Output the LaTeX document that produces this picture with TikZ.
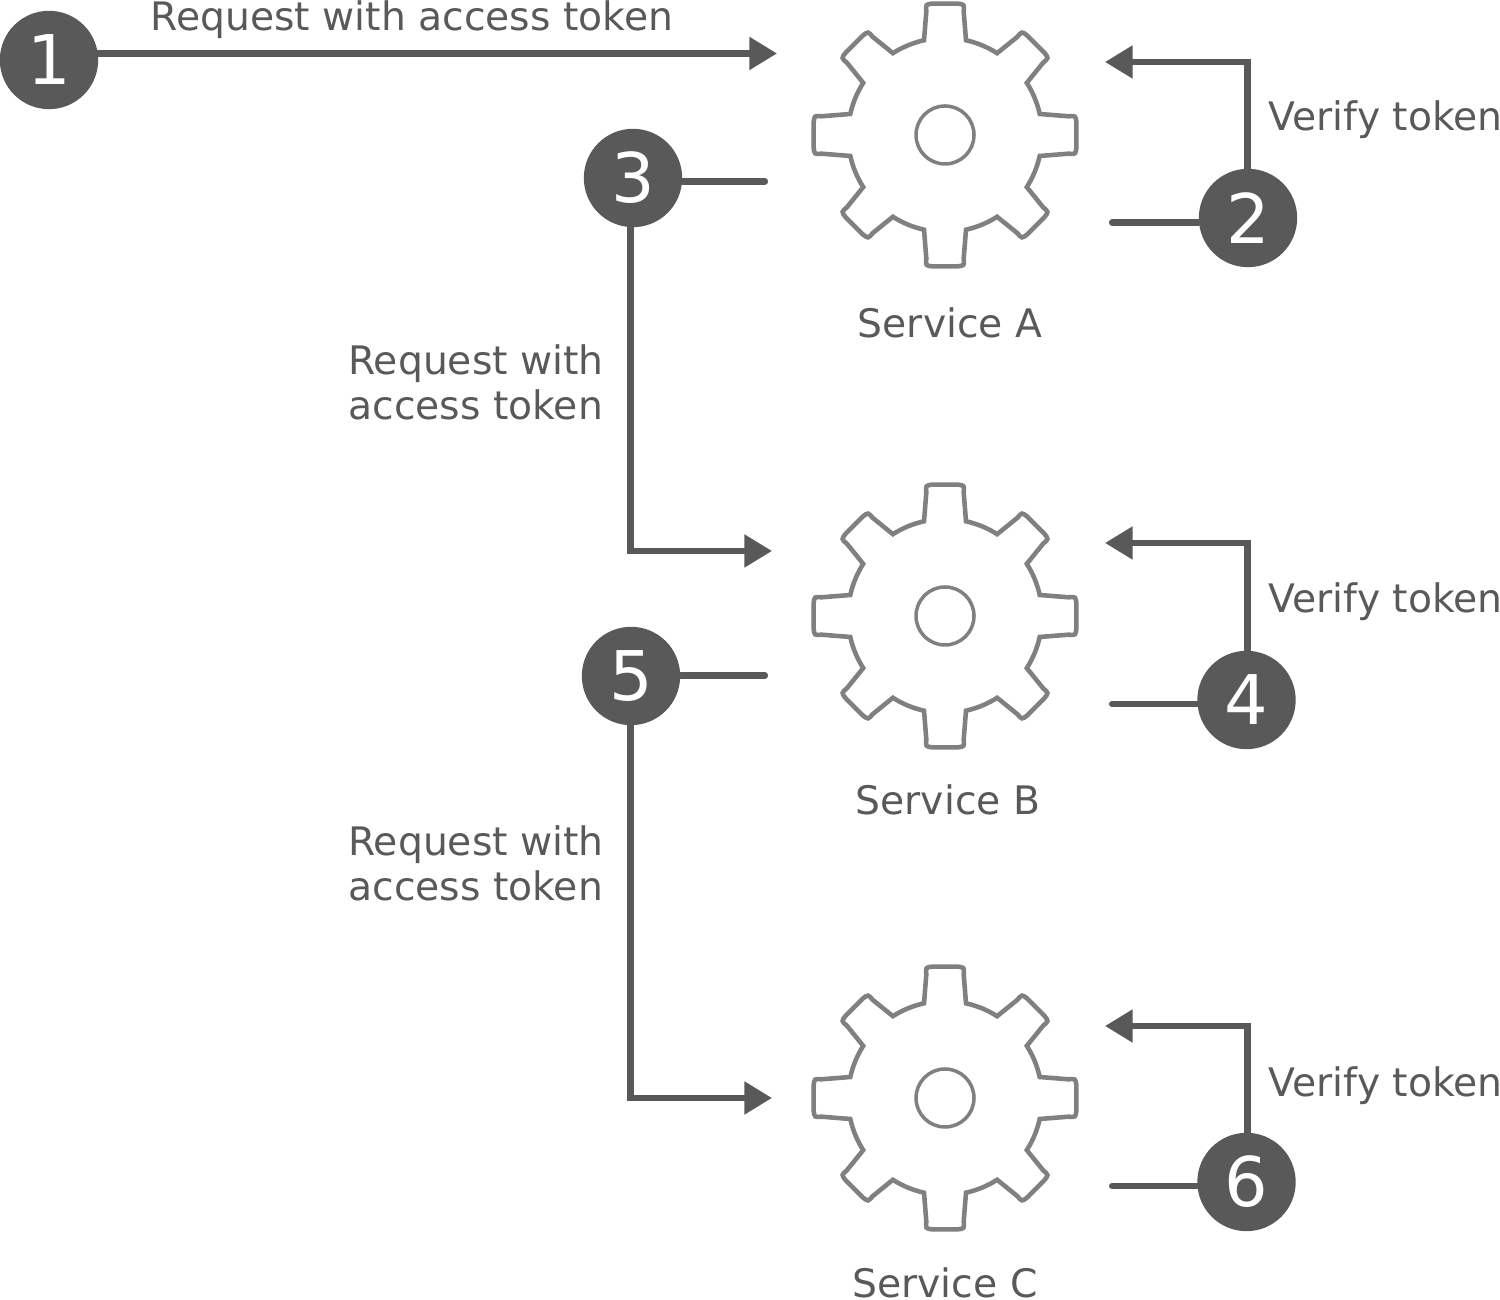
\documentclass[tikz,border=0pt]{standalone}
\usepackage{fontspec}
\setmainfont{DejaVu Sans}
\usetikzlibrary{arrows.meta, positioning, calc}
\definecolor{ink}{HTML}{595959}
\definecolor{cogink}{HTML}{808080}
\tikzset{
    num/.style={circle, fill=ink, text=white, inner sep=0pt, minimum size=56pt, font=\fontsize{39}{39}\selectfont},
    lbl/.style={text=ink, inner sep=0pt, anchor=base west, font=\fontsize{22.35}{25.6}\selectfont},
    svc/.style={lbl, anchor=base},
    link/.style={line width=3.5pt, draw=ink, line cap=round},
    req/.style={link, line cap=butt, shorten <=-2pt, -{Triangle[length=15.7pt, width=18pt]}},
    cogline/.style={line width=2.6pt, draw=cogink, line join=miter}
}
\begin{document}
\begin{tikzpicture}[x=0.02cm, y=0.02cm]
    \useasboundingbox (0,0) rectangle (1500,1300);
    \foreach \y in {1165, 684, 202} {
        \begin{scope}[shift={(945,\y)}]
            \draw[cogline] (-12.5:97) \foreach \a/\r in {0/132,45/129,90/132,135/129,180/132,225/129,270/132,315/129} {
                -- (\a-8.6:\r-7) .. controls (\a-8.4:\r) .. (\a-5.5:\r) -- (\a+5.5:\r) .. controls (\a+8.4:\r) .. (\a+8.6:\r-7)
                -- (\a+12.5:97) arc[start angle=\a+12.5, delta angle=20, radius=97]
            } -- cycle;
            \draw[cogline, line width=2pt] (0,0) circle (29);
        \end{scope}
    }
    \node[num] (n1) at (49,1240) {1};
    \node[num] (n2) at (1248,1082) {2};
    \node[num] (n3) at (633,1122) {3};
    \node[num] (n4) at (1246.5,600) {4};
    \node[num] (n5) at (631,624) {5};
    \node[num] (n6) at (1246.5,118) {6};
    \coordinate (tipA) at (777,1246.5);
    \coordinate (tipB) at (772,749);
    \coordinate (tipC) at (772,202);
    \coordinate (backA) at (1105,1238);
    \coordinate (backB) at (1105,757);
    \coordinate (backC) at (1105,274);
    \coordinate (stubA) at (1112,1077.5);
    \coordinate (stubB) at (1112,596);
    \coordinate (stubC) at (1112,114);
    \coordinate (outA) at (765,1118.5);
    \coordinate (outB) at (765,624.5);
    \coordinate (rise) at (1247.5,600);
    \coordinate (drop) at (630.5,600);
    \draw[req] (tipA -| n1.east) -- (tipA);
    \draw[req] (n2.north -| rise) |- (backA);
    \draw[req] (n4.north -| rise) |- (backB);
    \draw[req] (n6.north -| rise) |- (backC);
    \draw[req] (n3.south -| drop) |- (tipB);
    \draw[req] (n5.south -| drop) |- (tipC);
    \draw[link] (stubA) -- (stubA -| n2.west);
    \draw[link] (stubB) -- (stubB -| n4.west);
    \draw[link] (stubC) -- (stubC -| n6.west);
    \draw[link] (outA) -- (outA -| n3.east);
    \draw[link] (outB) -- (outB -| n5.east);
    \node[svc] (reqtop) at (412,1269) {Request with access token};
    \node[lbl] (verA) at (1268.5,1169) {Verify token};
    \node[lbl] (verB) at (1268.5,687) {Verify token};
    \node[lbl] (verC) at (1268.5,203) {Verify token};
    \node[svc] (nameA) at (950,962.5) {Service A};
    \node[svc] (nameB) at (948,485) {Service B};
    \node[svc] (nameC) at (945,2) {Service C};
    \node[lbl] (reqB1) at (348,925) {Request with};
    \node[lbl] (reqB2) at (348,880) {access token};
    \node[lbl] (reqC1) at (348,444) {Request with};
    \node[lbl] (reqC2) at (348,399) {access token};
\end{tikzpicture}
\end{document}
